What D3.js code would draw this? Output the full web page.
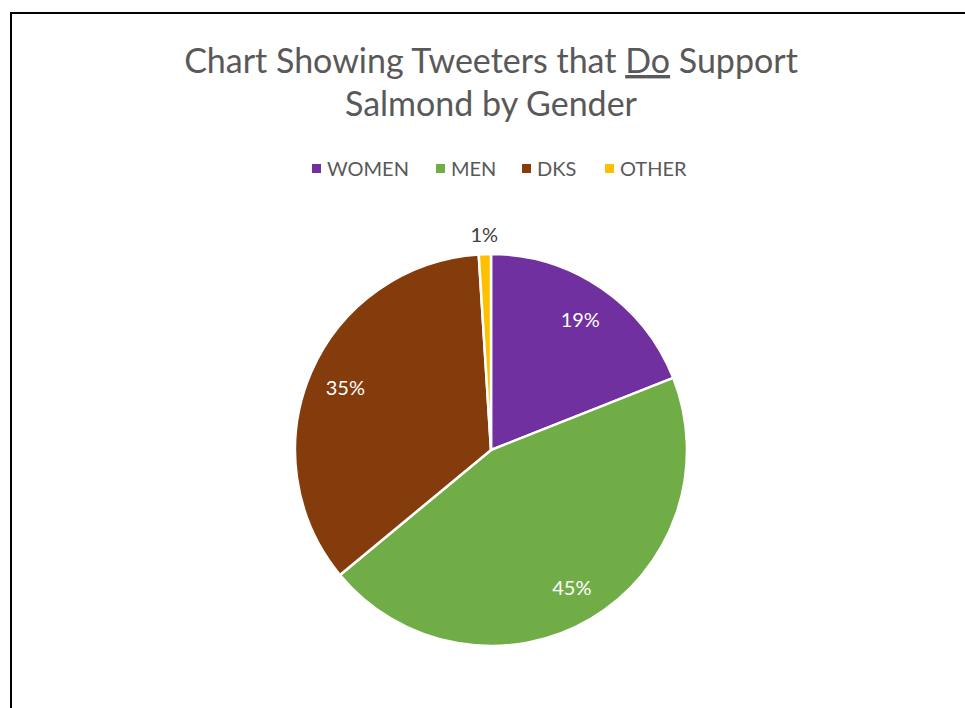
<!DOCTYPE html>
<html>
<head>
<meta charset="utf-8">
<script src="https://cdn.jsdelivr.net/npm/d3@7"></script>
<style>
  html, body { margin: 0; padding: 0; background: #fff; }
  svg { display: block; }
</style>
</head>
<body>
<svg id="chart" width="965" height="708"></svg>
<script>
// Supporters of Salmond by gender (share of tweeters, %)
const categories = ["WOMEN", "MEN", "DKS", "OTHER"];
const values = [19, 45, 35, 1];
const labels = ["19%", "45%", "35%", "1%"];
const colors = ["#7030A0", "#70AD47", "#843C0C", "#FFC000"];

const W = 965, H = 708;
const svg = d3.select("#chart");
const font = "Lato, 'Open Sans', 'Noto Sans', sans-serif";
const textColor = "#595959";

// chart frame
svg.append("rect")
  .attr("x", 11).attr("y", 13)
  .attr("width", W + 10).attr("height", H + 10)
  .attr("fill", "#fff")
  .attr("stroke", "#000").attr("stroke-width", 2);

// title
const title = svg.append("text")
  .attr("text-anchor", "middle")
  .attr("font-family", font)
  .attr("font-size", 34)
  .attr("fill", textColor);
const l1 = title.append("tspan").attr("x", 491).attr("y", 73);
l1.append("tspan").text("Chart Showing Tweeters that ");
l1.append("tspan").attr("text-decoration", "underline").text("Do");
l1.append("tspan").text(" Support");
title.append("tspan").attr("x", 491).attr("y", 116).text("Salmond by Gender");

// legend
const legendX = [312, 436, 522, 605];
const legend = svg.append("g").attr("font-family", font).attr("font-size", 20).attr("fill", textColor);
categories.forEach((c, i) => {
  legend.append("rect")
    .attr("x", legendX[i]).attr("y", 164)
    .attr("width", 9).attr("height", 9)
    .attr("fill", colors[i]);
  legend.append("text")
    .attr("x", legendX[i] + 15).attr("y", 176)
    .text(c);
});

// pie
const cx = 491, cy = 450, R = 196;
const pie = d3.pie().sort(null).value(d => d)(values);
const arc = d3.arc().innerRadius(0).outerRadius(R);
const g = svg.append("g").attr("transform", `translate(${cx},${cy})`);

g.selectAll("path.slice")
  .data(pie)
  .join("path")
  .attr("class", "slice")
  .attr("d", arc)
  .attr("fill", (d, i) => colors[i])
  .attr("stroke", "#fff")
  .attr("stroke-width", 2.5)
  .attr("stroke-linejoin", "round");

// data labels: inside for large slices, outside for the tiny one
const inner = d3.arc().innerRadius(R * 0.81).outerRadius(R * 0.81);
const outer = d3.arc().innerRadius(R + 20).outerRadius(R + 20);
g.selectAll("text.lbl")
  .data(pie)
  .join("text")
  .attr("class", "lbl")
  .attr("font-family", font)
  .attr("font-size", 20)
  .attr("text-anchor", "middle")
  .attr("dominant-baseline", "central")
  .attr("fill", (d, i) => values[i] < 5 ? "#404040" : "#fff")
  .attr("transform", (d, i) => `translate(${(values[i] < 5 ? outer : inner).centroid(d)})`)
  .text((d, i) => labels[i]);
</script>
</body>
</html>
